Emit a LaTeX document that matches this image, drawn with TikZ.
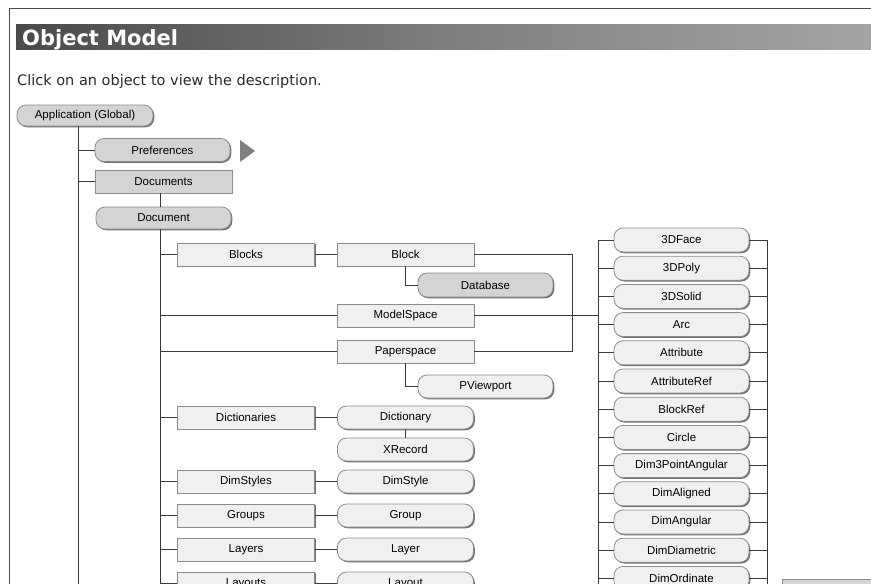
\documentclass[tikz,border=0pt]{standalone}
\usepackage{fontspec}
\setmainfont{Liberation Sans}
\newfontfamily\verdana{DejaVu Sans}
\usetikzlibrary{shadows}
\definecolor{frame}{HTML}{4A4A4A}
\definecolor{boxfill}{HTML}{F0F0F0}
\definecolor{darkfill}{HTML}{D4D4D4}
\definecolor{boxline}{HTML}{8C8C8C}
\definecolor{shade}{HTML}{707070}
\definecolor{wire}{HTML}{3A3A3A}
\definecolor{hintink}{HTML}{2A2A2A}
\definecolor{bannerdark}{HTML}{4A4A4A}
\definecolor{bannermid}{HTML}{7E7E7E}
\definecolor{bannerlight}{HTML}{A4A4A4}
\tikzset{
  objbox/.style={rectangle,draw=boxline,fill=boxfill,line width=.8pt,
    minimum width=137pt,minimum height=23pt,inner sep=0pt,
    font=\fontsize{11.5}{13}\selectfont,
    drop shadow={shadow xshift=1.3pt,shadow yshift=-1.3pt,fill=shade,opacity=1}},
  objround/.style={objbox,rounded corners=9pt,minimum width=135pt},
  darkbox/.style={objbox,fill=darkfill},
  darkround/.style={objround,fill=darkfill},
  link/.style={draw=wire,line width=1pt},
}

\begin{document}
\begin{tikzpicture}[x=1pt,y=-1pt]
\clip (0,0) rectangle (871,584);
\fill[white] (0,0) rectangle (871,584);
% page frame and banner
\draw[frame,line width=1pt] (9,584) -- (9,8) -- (871,8);
\shade[left color=bannerdark,right color=bannerlight,middle color=bannermid] (16,24) rectangle (871,49);
\node[anchor=base west,inner sep=0pt,text=white,font=\verdana\bfseries\fontsize{21}{24}\selectfont] (title) at (22,45) {Object Model};
\node[anchor=base west,inner sep=0pt,text=hintink,font=\verdana\fontsize{14.5}{17}\selectfont] (hint) at (17,85) {Click on an object to view the description.};
% trunks
\coordinate (t1) at (78,584);
\coordinate (t2) at (160,584);
\coordinate (t3) at (598,584);
\coordinate (t4) at (767,584);
\coordinate (loop) at (572,0);
% application level
\node[darkround,minimum width=136pt,minimum height=21pt] (app) at (85,115.5) {Application (Global)};
\node[darkround] (prefs) at (162.5,150) {Preferences};
\fill[gray] (240,140) -- (255,151) -- (240,162) -- cycle;
\node[darkbox] (docs) at (163.5,181.5) {Documents};
\node[darkround,minimum height=22pt] (doc) at (163.5,218) {Document};
\draw[link] (app.south -| t1) -- (t1);
\draw[link] (prefs.west -| t1) -- (prefs.west);
\draw[link] (docs.west -| t1) -- (docs.west);
\draw[link] (docs.south -| t2) -- (doc.north -| t2);
\draw[link] (doc.south -| t2) -- (t2);
% document children
\node[objbox] (blocks) at (246,254.5) {Blocks};
\node[objbox] (block) at (405.5,254.5) {Block};
\node[darkround,minimum height=24pt] (database) at (485.5,285) {Database};
\node[objbox] (model) at (405.5,315.5) {ModelSpace};
\node[objbox] (paper) at (405.5,351.5) {Paperspace};
\node[objround] (pview) at (485.5,386.5) {PViewport};
\node[objbox] (dicts) at (246,417.5) {Dictionaries};
\node[objround,minimum width=136pt] (dict) at (405.5,417.5) {Dictionary};
\node[objround,minimum width=136pt] (xrec) at (405.5,449.5) {XRecord};
\node[objbox] (dimstyles) at (246,481.5) {DimStyles};
\node[objround,minimum width=136pt] (dimstyle) at (405.5,481.5) {DimStyle};
\node[objbox] (groups) at (246,515.5) {Groups};
\node[objround,minimum width=136pt] (group) at (405.5,515.5) {Group};
\node[objbox] (layers) at (246,549.5) {Layers};
\node[objround,minimum width=136pt] (layer) at (405.5,549.5) {Layer};
\node[objbox] (layouts) at (246,583.5) {Layouts};
\node[objround,minimum width=136pt] (layout) at (405.5,583.5) {Layout};
\draw[link] (blocks.west -| t2) -- (blocks.west);
\draw[link] (blocks.east) -- (block.west);
\draw[link] (block.south) |- (database.west);
\draw[link] (block.east) -- (block.east -| loop) |- (paper.east);
\draw[link] (model.west -| t2) -- (model.west);
\draw[link] (model.east) -- (model.east -| t3);
\draw[link] (paper.west -| t2) -- (paper.west);
\draw[link] (paper.south) |- (pview.west);
\draw[link] (dict.south) -- (xrec.north);
\foreach \a/\b in {dicts/dict,dimstyles/dimstyle,groups/group,layers/layer,layouts/layout}{
  \draw[link] (\a.west -| t2) -- (\a.west);
  \draw[link] (\a.east) -- (\b.west);
}
% entity column
\foreach \name [count=\i from 0] in {3DFace,3DPoly,3DSolid,Arc,Attribute,AttributeRef,BlockRef,Circle,Dim3PointAngular,DimAligned,DimAngular,DimDiametric,DimOrdinate}{
  \node[objround,minimum height=24pt] (ent\i) at (681.5,240+28.2*\i) {\name};
  \draw[link] (ent\i.west -| t3) -- (ent\i.west);
  \draw[link] (ent\i.east) -- (ent\i.east -| t4);
}
\draw[link] (ent0.west -| t3) -- (t3);
\draw[link] (ent0.east -| t4) -- (t4);
\node[darkbox,anchor=north west,minimum width=100pt] (more) at (782,579) {};
\end{tikzpicture}
\end{document}
